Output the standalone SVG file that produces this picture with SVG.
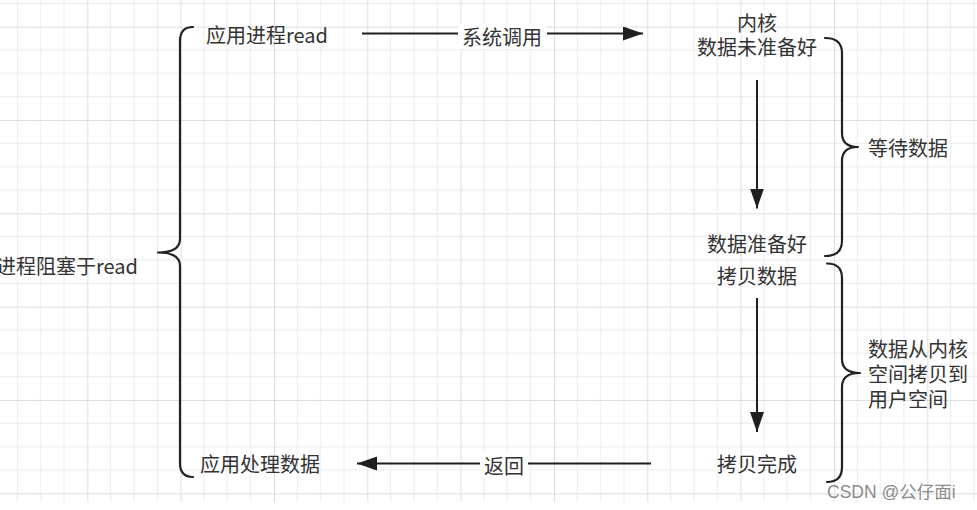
<svg xmlns="http://www.w3.org/2000/svg" width="977" height="510" viewBox="0 0 977 510">
  <style>
    .t { font-family: "Noto Sans CJK SC", "Liberation Sans", sans-serif; font-size: 20px; fill: #333333; }
    .c { text-anchor: middle; }
    .ln { fill: none; stroke: #1f1f1f; stroke-width: 2; }
    .br { fill: none; stroke: #222222; stroke-width: 2.2; stroke-linecap: round; stroke-linejoin: round; }
    .wm { font-family: "Liberation Sans", "Noto Sans CJK SC", sans-serif; font-size: 17.5px; fill: #8c8c8c; }
  </style>
  <defs>
    <pattern id="grid" patternUnits="userSpaceOnUse" x="-6" y="-66.67" width="93.33" height="93.33">
      <path d="M23.33,0 V93.33 M46.67,0 V93.33 M70,0 V93.33 M0,23.33 H93.33 M0,46.67 H93.33 M0,70 H93.33" stroke="#ebebeb" stroke-width="1" fill="none"/>
      <path d="M0.5,0 V93.33 M0,0.5 H93.33" stroke="#dedede" stroke-width="1" fill="none"/>
    </pattern>
    <marker id="arr" markerUnits="userSpaceOnUse" markerWidth="22" markerHeight="16" refX="20" refY="7" orient="auto">
      <path d="M0,0 L20,7 L0,14 Z" fill="#1f1f1f"/>
    </marker>
  </defs>

  <rect x="0" y="0" width="977" height="510" fill="#ffffff"/>
  <rect x="0" y="0" width="977" height="502" fill="url(#grid)"/>

  <g id="connectors">
    <path class="ln" d="M362,33.5 H643" marker-end="url(#arr)"/>
    <rect x="458" y="24" width="89" height="25" fill="#ffffff"/>
    <path class="ln" d="M757,80 V208.5" marker-end="url(#arr)"/>
    <path class="ln" d="M757,298 V432" marker-end="url(#arr)"/>
    <path class="ln" d="M651,463.5 H357" marker-end="url(#arr)"/>
    <rect x="480" y="452" width="48" height="25" fill="#ffffff"/>
  </g>

  <g id="labels">
    <text class="t c" x="502" y="44.5">系统调用</text>
    <text class="t c" x="504" y="473.5">返回</text>
  </g>

  <g id="brace-left">
    <path class="br" d="M193,27 Q180,27 180,41 L180,239 Q180,252.5 158,252.5 Q180,252.5 180,266 L180,463 Q180,477 193,477"/>
    <text class="t" x="138" y="274" text-anchor="end">进程阻塞于read</text>
  </g>

  <g id="brace-wait">
    <path class="br" d="M825,38 Q842,38 842,53 L842,133 Q842,147 858,147 Q842,147 842,161 L842,241 Q842,256 825,256"/>
    <text class="t" x="868" y="155.5">等待数据</text>
  </g>

  <g id="brace-copy">
    <path class="br" d="M827,263.5 Q842,263.5 842,278 L842,359 Q842,373 860,373 Q842,373 842,387 L842,467 Q842,482 827,482"/>
    <text class="t" x="868" y="356.5">数据从内核</text>
    <text class="t" x="868" y="381.5">空间拷贝到</text>
    <text class="t" x="868" y="406.5">用户空间</text>
  </g>

  <g id="node-app-read">
    <text class="t c" x="267" y="42.5">应用进程read</text>
  </g>

  <g id="node-kernel">
    <text class="t c" x="757" y="30.5">内核</text>
    <text class="t c" x="757" y="55">数据未准备好</text>
  </g>

  <g id="node-ready">
    <text class="t c" x="757" y="251.5">数据准备好</text>
  </g>

  <g id="node-copy">
    <text class="t c" x="757" y="283.5">拷贝数据</text>
  </g>

  <g id="node-copy-done">
    <text class="t c" x="757" y="471.5">拷贝完成</text>
  </g>

  <g id="node-app-process">
    <text class="t c" x="260" y="471.5">应用处理数据</text>
  </g>

  <text class="wm" x="827" y="498">CSDN @公仔面i</text>
</svg>
